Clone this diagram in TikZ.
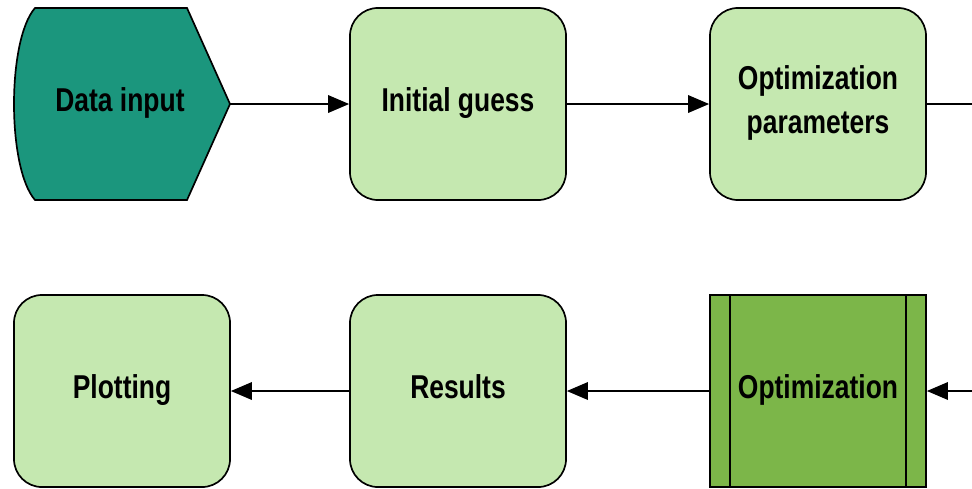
\documentclass[tikz,border=0pt]{standalone}
\usepackage{fontspec}
\setmainfont{Liberation Sans}[FakeStretch=0.8]
\usetikzlibrary{arrows.meta}
\definecolor{teal1}{RGB}{27,150,125}
\definecolor{lightgr}{RGB}{197,232,176}
\definecolor{midgr}{RGB}{124,182,73}
\tikzset{
  stepbox/.style={draw,line width=1.2pt,fill=lightgr,rounded corners=0.7cm,minimum width=5.4cm,minimum height=4.8cm,align=center},
  optbox/.style={draw,line width=1.2pt,fill=midgr,minimum width=5.4cm,minimum height=4.8cm},
  conn/.style={line width=1.2pt,-{Triangle[length=15pt,width=12.5pt]}},
  every node/.style={font=\fontsize{23.5}{31}\selectfont\bfseries,text depth=6pt}
}
\begin{document}
\begin{tikzpicture}[x=0.025cm,y=-0.025cm]
      \useasboundingbox (0,0) rectangle (972,488);
      \draw[line width=1.2pt,fill=teal1] (187,8) -- (35,8) .. controls (7,40) and (7,168) .. (35,200) -- (187,200) -- (230,104) -- cycle;
      \node (data) at (120,104) {Data input};
      \coordinate (datatip) at (230,104);
      \node[stepbox] (guess) at (458,104) {Initial guess};
      \node[stepbox] (params) at (818,104) {Optimization\\parameters};
      \node[stepbox] (plot) at (122,391) {Plotting};
      \node[stepbox] (results) at (458,391) {Results};
      \node[optbox] (opt) at (818,391) {Optimization};
      \draw[line width=1.2pt] ([xshift=0.525cm]opt.north west) -- ([xshift=0.525cm]opt.south west);
      \draw[line width=1.2pt] ([xshift=-0.525cm]opt.north east) -- ([xshift=-0.525cm]opt.south east);
      \coordinate (rimtop) at (972,104);
      \coordinate (rimbot) at (972,391);
      \draw[conn] (datatip) -- (guess);
      \draw[conn] (guess) -- (params);
      \draw[line width=1.2pt] (params) -- (rimtop);
      \draw[conn] (rimbot) -- (opt);
      \draw[conn] (opt) -- (results);
      \draw[conn] (results) -- (plot);
    \end{tikzpicture}
\end{document}
